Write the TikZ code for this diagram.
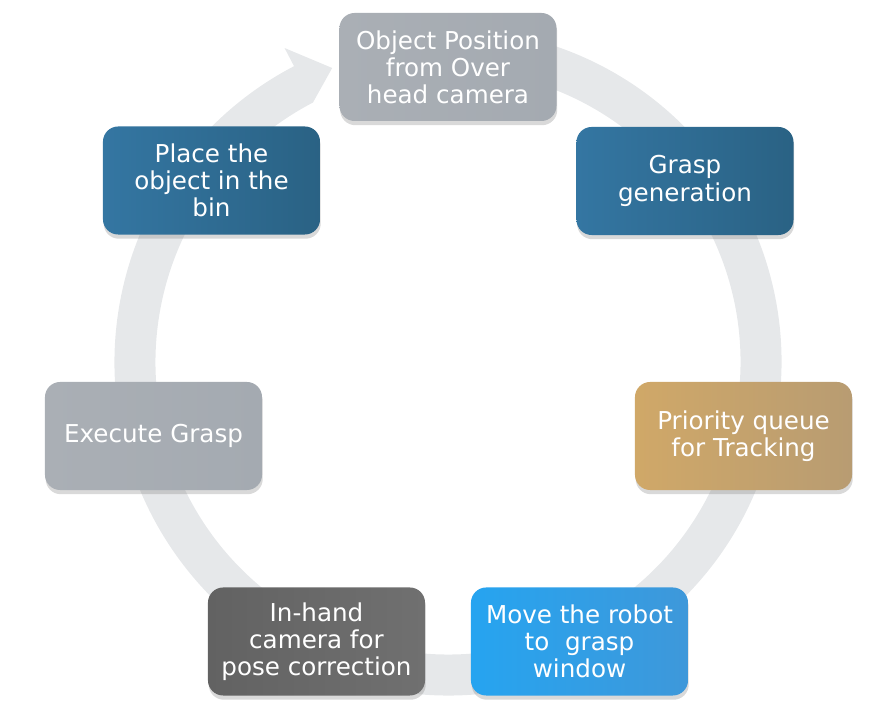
\documentclass[tikz,border=0pt]{standalone}
\usepackage{color}
\usepackage{fontspec}
\setmainfont{DejaVu Sans}
\usepackage{tikz}
\usetikzlibrary{shadows}

\definecolor{ringgray}{RGB}{230,232,234}
\definecolor{slate}{RGB}{170,175,181}
\definecolor{slatedark}{RGB}{164,170,177}
\definecolor{steel}{RGB}{52,118,162}
\definecolor{steeldark}{RGB}{42,98,132}
\definecolor{sand}{RGB}{208,168,104}
\definecolor{sanddark}{RGB}{184,156,114}
\definecolor{sky}{RGB}{38,164,240}
\definecolor{skydark}{RGB}{62,152,218}
\definecolor{graphite}{RGB}{98,98,98}
\definecolor{graphitedark}{RGB}{112,112,112}

\begin{document}
\begin{tikzpicture}[x=0.025cm,y=0.025cm]
  \useasboundingbox (0,0) rectangle (895,720);

  % the cycle arrow behind the boxes
  \fill[ringgray, shift={(448,358)}] (80:333.5)
      arc[start angle=80,end angle=-242.5,radius=333.5]
      -- (-242.5:354) -- (-248.5:316) -- (-242.5:292.5)
      arc[start angle=-242.5,end angle=80,radius=292.5] -- cycle;

  \begin{scope}[every node/.style={rounded corners=0.38cm,minimum width=5.425cm,
      minimum height=2.7cm,align=center,text=white,
      font=\fontsize{17.5}{19.3}\selectfont,
      drop shadow={shadow xshift=0.5pt,shadow yshift=-3pt,opacity=0.3}}]
    \node[left color=slate,right color=slatedark] (obj) at (448,653) {Object Position\\from Over\\head camera};
    \node[left color=steel,right color=steeldark] (gen) at (685,539) {Grasp\\generation};
    \node[left color=sand,right color=sanddark] (queue) at (743.5,284) {Priority queue\\for Tracking};
    \node[left color=sky,right color=skydark] (move) at (579.5,78.5) {Move the robot\\to~~grasp\\window};
    \node[left color=graphite,right color=graphitedark] (inhand) at (316.5,78.5) {In-hand\\camera for\\pose correction};
    \node[left color=slate,right color=slatedark] (exec) at (153.5,284) {Execute Grasp};
    \node[left color=steel,right color=steeldark] (place) at (211.5,539.5) {Place the\\object in the\\bin};
  \end{scope}

\end{tikzpicture}
\end{document}
